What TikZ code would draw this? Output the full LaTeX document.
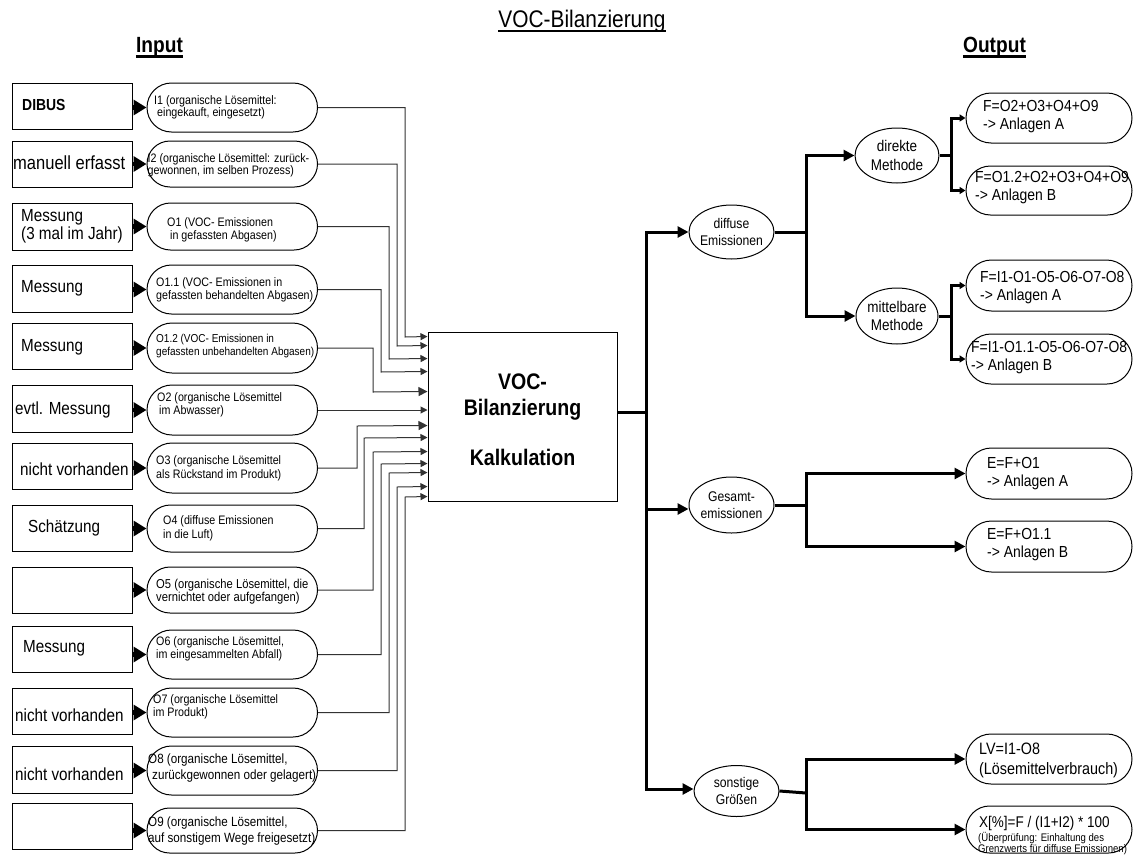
\documentclass[tikz,border=0pt]{standalone}
\usepackage{fontspec}
\setmainfont{Liberation Sans}[FakeStretch=0.87]
\usetikzlibrary{shapes.misc,shapes.geometric,arrows.meta,calc}
\newcommand\setfs[2]{\fontsize{#1}{#2}\selectfont}
\begin{document}
\begin{tikzpicture}[x=1pt,y=-1pt,
  srcbox/.style={draw,line width=1pt,minimum width=120.5,inner sep=0},
  incap/.style={draw,line width=1pt,rounded rectangle,minimum width=170.5,inner sep=0},
  outcap/.style={draw,line width=1pt,rounded rectangle,minimum width=166,inner sep=0},
  oval/.style={draw,line width=1pt,ellipse,inner sep=0},
  srctext/.style={anchor=west,inner sep=0,align=left,font=\setfs{17.5}{17.5}},
  captext/.style={anchor=west,inner sep=0,align=left,font=\setfs{12.3}{12.5}},
  restext/.style={anchor=west,inner sep=0,align=left,font=\setfs{16}{18}},
  ovaltext/.style={inner sep=0,align=center,font=\setfs{14}{16.5}},
  feed/.style={line width=4.5pt,-{Triangle[length=13pt,width=15pt]}},
  conn/.style={draw=black!80,line width=1pt,-{Triangle[length=7pt,width=7pt]}},
  connbig/.style={draw=black!80,line width=1pt,-{Triangle[length=9pt,width=9pt]}},
  trunk/.style={line width=3pt},
  branch/.style={line width=3pt,-{Triangle[length=11pt,width=11pt]}},
  twig/.style={line width=3pt,-{Triangle[length=6pt,width=7pt]}},
  heading/.style={anchor=base,inner sep=0},
]
\useasboundingbox (0,0) rectangle (1134,854);
\fill[white] (0,0) rectangle (1134,854);

% headings
\node[heading,font=\setfs{24}{24}] (title) at (582,27) {VOC-Bilanzierung};
\draw[line width=2.5pt] ([yshift=-4pt]title.base west) -- ([yshift=-4pt]title.base east);
\node[heading,font=\bfseries\setfs{22}{22}] (inp) at (159.5,52.5) {Input};
\draw[line width=3pt] ([yshift=-3.5pt]inp.base west) -- ([yshift=-3.5pt]inp.base east);
\node[heading,font=\bfseries\setfs{22}{22}] (outp) at (994.5,52.5) {Output};
\draw[line width=3pt] ([yshift=-3.5pt]outp.base west) -- ([yshift=-3.5pt]outp.base east);

% sources of the input data
\node[srcbox,minimum height=46] (b1)  at (72.25,106)   {};
\node[srcbox,minimum height=46] (b2)  at (72.25,164)   {};
\node[srcbox,minimum height=47] (b3)  at (72.25,226.5) {};
\node[srcbox,minimum height=47] (b4)  at (72.25,288.5) {};
\node[srcbox,minimum height=46] (b5)  at (72.25,346)   {};
\node[srcbox,minimum height=47] (b6)  at (72.25,408.5) {};
\node[srcbox,minimum height=46] (b7)  at (72.25,466)   {};
\node[srcbox,minimum height=46] (b8)  at (72.25,528)   {};
\node[srcbox,minimum height=46] (b9)  at (72.25,590)   {};
\node[srcbox,minimum height=46] (b10) at (72.25,649)   {};
\node[srcbox,minimum height=46] (b11) at (72.25,711)   {};
\node[srcbox,minimum height=47] (b12) at (72.25,769.5) {};
\node[srcbox,minimum height=46] (b13) at (72.25,826)   {};

\node[srctext,font=\bfseries\setfs{16}{16}] (t1) at (22,105) {DIBUS};
\node[srctext,font=\setfs{19}{19}] (t2) at (13,163) {manuell erfasst};
\node[srctext] (t3)  at (21,226.5) {Messung\\(3 mal im Jahr)};
\node[srctext] (t4)  at (21,288)   {Messung};
\node[srctext] (t5)  at (21,347)   {Messung};
\node[srctext] (t6)  at (15,410)   {evtl. Messung};
\node[srctext] (t7)  at (20,469)   {nicht vorhanden};
\node[srctext] (t8)  at (28,528)   {Schätzung};
\node[srctext] (t10) at (23,648)   {Messung};
\node[srctext] (t11) at (15,715)   {nicht vorhanden};
\node[srctext] (t12) at (15,774)   {nicht vorhanden};

% input quantities
\node[incap,minimum height=49] (c1)  at (232.25,107.5) {};
\node[incap,minimum height=46] (c2)  at (232.25,164)   {};
\node[incap,minimum height=47] (c3)  at (232.25,226.5) {};
\node[incap,minimum height=49] (c4)  at (232.25,289.5) {};
\node[incap,minimum height=50] (c5)  at (232.25,348)   {};
\node[incap,minimum height=50] (c6)  at (232.25,410)   {};
\node[incap,minimum height=50] (c7)  at (232.25,468)   {};
\node[incap,minimum height=47] (c8)  at (232.25,528.5) {};
\node[incap,minimum height=46] (c9)  at (232.25,590)   {};
\node[incap,minimum height=49] (c10) at (232.25,654.5) {};
\node[incap,minimum height=49] (c11) at (232.25,712.5) {};
\node[incap,minimum height=49] (c12) at (232.25,770.5) {};
\node[incap,minimum height=45] (c13) at (232.25,830.5) {};

\node[captext,font=\setfs{12.3}{12}] (ct1) at (154,107) {I1 (organische Lösemittel:\\\hspace*{3pt}eingekauft, eingesetzt)};
\node[captext,font=\setfs{12.3}{12}] (ct2) at (147.5,165) {I2 (organische Lösemittel: zurück-\\gewonnen, im selben Prozess)};
\node[captext,font=\setfs{12.3}{13}] (ct3) at (167,229.5) {O1 (VOC- Emissionen\\\hspace*{3pt}in gefassten Abgasen)};
\node[captext,font=\setfs{12.3}{13}] (ct4) at (156,289.5) {O1.1 (VOC- Emissionen in\\gefassten behandelten Abgasen)};
\node[captext,font=\setfs{11.5}{12.5}] (ct5) at (156,346) {O1.2 (VOC- Emissionen in\\gefassten unbehandelten Abgasen)};
\node[captext,font=\setfs{12.3}{13}] (ct6) at (157,404.5) {O2 (organische Lösemittel\\\hspace*{2pt}im Abwasser)};
\node[captext,font=\setfs{12.3}{14}] (ct7) at (156,468) {O3 (organische Lösemittel\\als Rückstand im Produkt)};
\node[captext,font=\setfs{12.3}{14.5}] (ct8) at (163,528.5) {O4 (diffuse Emissionen\\in die Luft)};
\node[captext,font=\setfs{12.9}{13.5}] (ct9) at (156,591.5) {O5 (organische Lösemittel, die\\vernichtet oder aufgefangen)};
\node[captext,font=\setfs{12.3}{12.5}] (ct10) at (156,649) {O6 (organische Lösemittel,\\im eingesammelten Abfall)};
\node[captext,font=\setfs{12.3}{12.5}] (ct11) at (153,707) {O7 (organische Lösemittel\\im Produkt)};
\node[captext,font=\setfs{13.4}{16}] (ct12) at (148,768.5) {O8 (organische Lösemittel,\\\hspace*{4pt}zurückgewonnen oder gelagert)};
\node[captext,font=\setfs{13.4}{16}] (ct13) at (148,831) {O9 (organische Lösemittel,\\auf sonstigem Wege freigesetzt)};

% feeds from the sources
\foreach \i in {1,...,13}{
  \draw[feed] (b\i.east |- c\i.west) -- (c\i.west);
}

% calculation block
\node[draw,line width=1pt,minimum width=189,minimum height=169,inner sep=0] (bb) at (522.5,416.5) {};
\node[inner sep=0,align=center,font=\bfseries\setfs{22.5}{26}] (bbt) at (522.5,420) {VOC-\\Bilanzierung\\[24pt]Kalkulation};

% collecting lines into the block
\draw[conn]    (c1.east)  -| (405,337) -- ($(bb.north west)+(0,5)$);
\draw[conn]    (c2.east)  -| (397,346) -- ($(bb.north west)+(0,14)$);
\draw[conn]    (c3.east)  -| (389,359) -- ($(bb.north west)+(0,27)$);
\draw[conn]    (c4.east)  -| (381,372) -- ($(bb.north west)+(0,40)$);
\draw[connbig] (c5.east)  -| (373,392) -- ($(bb.north west)+(0,60)$);
\draw[conn]    (c6.east)  -- (c6.east -| bb.west);
\draw[connbig] (c7.east)  -| (357,426) -- ($(bb.north west)+(0,94)$);
\draw[conn]    (c8.east)  -| (364,438) -- ($(bb.north west)+(0,106)$);
\draw[conn]    (c9.east)  -| (373,452) -- ($(bb.north west)+(0,120)$);
\draw[conn]    (c10.east) -| (381,464) -- ($(bb.north west)+(0,132)$);
\draw[conn]    (c11.east) -| (389,473) -- ($(bb.north west)+(0,141)$);
\draw[conn]    (c12.east) -| (397,487) -- ($(bb.north west)+(0,155)$);
\draw[conn]    (c13.east) -| (405,497) -- ($(bb.north west)+(0,165)$);

% output categories
\node[oval,minimum width=85,minimum height=54] (dif) at (731.5,232) {};
\node[oval,minimum width=85,minimum height=56] (ges) at (731.5,505) {};
\node[oval,minimum width=85,minimum height=51] (son) at (736.5,791) {};
\node[oval,minimum width=84,minimum height=55] (dir) at (897,155.5) {};
\node[oval,minimum width=82,minimum height=56] (mit) at (897,316) {};

\node[ovaltext,font=\setfs{14}{17}] (dift) at (dif) {diffuse\\Emissionen};
\node[ovaltext] (gest) at (ges) {Gesamt-\\emissionen};
\node[ovaltext] (sont) at (son) {sonstige\\Größen};
\node[ovaltext,font=\setfs{15.5}{18.5}] (dirt) at (dir) {direkte\\Methode};
\node[ovaltext,font=\setfs{15.5}{18}] (mitt) at (mit) {mittelbare\\Methode};

% results
\node[outcap,minimum height=50] (r1) at (1049,118)   {};
\node[outcap,minimum height=49] (r2) at (1049,190.5) {};
\node[outcap,minimum height=51] (r3) at (1049,285.5) {};
\node[outcap,minimum height=50] (r4) at (1049,359)   {};
\node[outcap,minimum height=51] (r5) at (1049,473.5) {};
\node[outcap,minimum height=51] (r6) at (1049,546.5) {};
\node[outcap,minimum height=50] (r7) at (1049,759)   {};
\node[outcap,minimum height=47] (r8) at (1049,829.5) {};

\node[restext] (rt1) at (983,117)   {F=O2+O3+O4+O9\\-> Anlagen A};
\node[restext] (rt2) at (975,188)   {F=O1.2+O2+O3+O4+O9\\-> Anlagen B};
\node[restext] (rt3) at (980,287.5) {F=I1-O1-O5-O6-O7-O8\\-> Anlagen A};
\node[restext] (rt4) at (971,357.5) {F=I1-O1.1-O5-O6-O7-O8\\-> Anlagen B};
\node[restext] (rt5) at (987,473.5) {E=F+O1\\-> Anlagen A};
\node[restext] (rt6) at (987,544.5) {E=F+O1.1\\-> Anlagen B};
\node[restext,font=\setfs{16.5}{20}] (rt7) at (979,760) {LV=I1-O8\\(Lösemittelverbrauch)};
\node[restext,font=\setfs{15.5}{15.5}] (rt8a) at (979,823) {X[\%]=F / (I1+I2) * 100};
\node[restext,font=\setfs{11}{11.5}] (rt8b) at (978,843.5) {(Überprüfung: Einhaltung des\\Grenzwerts für diffuse Emissionen)};

% main distribution
\coordinate (hub) at (646,412);
\draw[trunk] (bb.east |- hub) -- (hub);
\draw[branch] (hub) |- (dif.west);
\draw[branch] (hub) |- ($(ges.west)+(0,4)$);
\draw[branch] (hub) |- ($(son.west)+(0,-2)$);

% diffuse emissions
\coordinate (dsplit) at (806,232);
\draw[trunk] (dif.east) -- (dsplit);
\draw[branch] (dsplit) |- (dir.west);
\draw[branch] (dsplit) |- (mit.west);

\coordinate (dirsplit) at (951,155.5);
\draw[trunk] (dir.east) -- (dirsplit);
\draw[twig] (dirsplit) |- (r1.west);
\draw[twig] (dirsplit) |- (r2.west);

\coordinate (mitsplit) at (951,316);
\draw[trunk] (mit.east) -- (mitsplit);
\draw[twig] (mitsplit) |- (r3.west);
\draw[twig] (mitsplit) |- (r4.west);

% total emissions
\coordinate (gsplit) at (806,505);
\draw[trunk] (ges.east) -- (gsplit);
\draw[branch] (gsplit) |- (r5.west);
\draw[branch] (gsplit) |- (r6.west);

% further quantities
\coordinate (ssplit) at (806,793);
\draw[trunk] (son.east) -- (ssplit);
\draw[branch] (ssplit) |- (r7.west);
\draw[branch] (ssplit) |- (r8.west);
\end{tikzpicture}
\end{document}
